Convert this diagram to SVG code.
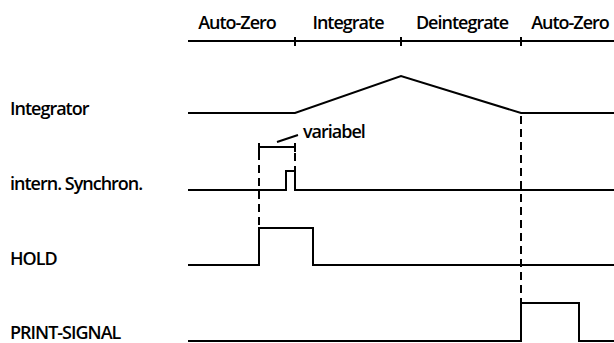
<svg xmlns="http://www.w3.org/2000/svg" width="614" height="343" viewBox="0 0 614 343">
<style>
text{font-family:"Open Sans","Noto Sans","Liberation Sans",sans-serif;font-size:18px;font-weight:600;fill:#000;letter-spacing:-1px}
.w{fill:none;stroke:#000;stroke-width:2;stroke-linejoin:miter}
.d{fill:none;stroke:#000;stroke-width:2;stroke-dasharray:8,5}
</style>
<rect width="614" height="343" fill="#fff"/>
<g id="phases">
<text x="237" y="29" text-anchor="middle">Auto-Zero</text>
<text x="348" y="29" text-anchor="middle">Integrate</text>
<text x="462" y="29" text-anchor="middle">Deintegrate</text>
<text x="570" y="29" text-anchor="middle">Auto-Zero</text>
<path class="w" d="M188,41H614M295,37V46M401,37V46M521,37V46"/>
</g>
<g id="integrator">
<text x="10" y="115">Integrator</text>
<path class="w" d="M188,113H295L401,76L521,113H614"/>
</g>
<g id="synchron">
<text x="10" y="190">intern. Synchron.</text>
<path class="w" d="M188,190H286V171H295V190H614"/>
</g>
<g id="hold">
<text x="10" y="265">HOLD</text>
<path class="w" d="M188,265H259V228H313V265H614"/>
</g>
<g id="print">
<text x="10" y="339">PRINT-SIGNAL</text>
<path class="w" d="M188,341H521V303H579V341H614"/>
</g>
<g id="variabel">
<text x="303" y="138">variabel</text>
<path class="w" d="M259,147H295M259,143V152M295,143V152M277,142L298,135"/>
</g>
<g id="connectors">
<path class="d" d="M259,152V228"/>
<path class="d" d="M295,153V171"/>
<path class="d" d="M521,116V303"/>
</g>
</svg>
